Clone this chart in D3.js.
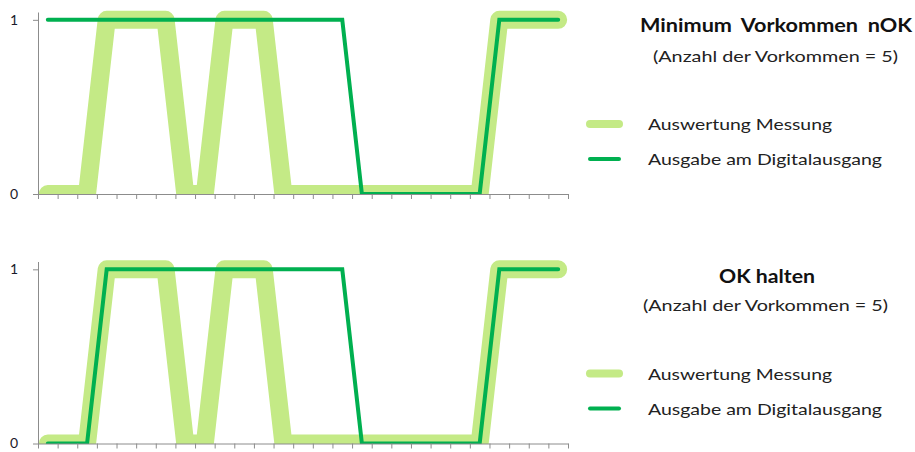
<!DOCTYPE html>
<html>
 <head>
  <title>Vorkommen Diagramm</title>
  <style>
  body {
   margin: 0;
   background-color: white;
  }
  text {
   font-family: Lato, "Open Sans", sans-serif;
  }
  </style>
  <script src="https://cdnjs.cloudflare.com/ajax/libs/d3/7.8.3/d3.min.js"></script>
 </head>

 <body>
  <script>
   // Werte
   const categories = d3.range(1, 28);
   const messung = [0,0,0,1,1,1,1,0,0,1,1,1,0,0,0,0,0,0,0,0,0,0,0,1,1,1,1];
   const ausgabeNOK = [1,1,1,1,1,1,1,1,1,1,1,1,1,1,1,1,0,0,0,0,0,0,0,1,1,1,1];
   const ausgabeOKHalten = [0,0,0,1,1,1,1,1,1,1,1,1,1,1,1,1,0,0,0,0,0,0,0,1,1,1,1];
   const yTicks = [0, 1];
   const legendLabels = ["Auswertung Messung", "Ausgabe am Digitalausgang"];

   const panels = [
    {title: "Minimum Vorkommen nOK", sub: "(Anzahl der Vorkommen = 5)", ausgabe: ausgabeNOK,
     top: 0, tx: 640, tw: 272, ty: 32, sx: 653, spacing: "0.2em"},
    {title: "OK halten", sub: "(Anzahl der Vorkommen = 5)", ausgabe: ausgabeOKHalten,
     top: 249.5, tx: 719, tw: 96, ty: 33.8, sx: 643, spacing: "0em"}
   ];

   const w = 915;
   const h = 452;
   const light = "#c4ea86";
   const dark = "#00b050";
   const axisColor = "#8c8c8c";

   const svg = d3.select("body")
                 .append("svg")
                 .attr("width", w)
                 .attr("height", h);

   const xScale = d3.scalePoint()
                    .domain(categories)
                    .range([38, 568])
                    .padding(0.5);
   const xEdges = d3.scaleLinear()
                    .domain([0, categories.length])
                    .range([38, 568]);
   const yScale = d3.scaleLinear()
                    .domain([0, 1.045])
                    .range([194, 12]);

   const line = d3.line()
                  .x((d, i) => xScale(categories[i]))
                  .y(d => yScale(d));

   panels.forEach((p, k) => {
    const g = svg.append("g")
                 .attr("transform", "translate(0," + p.top + ")");

    g.append("clipPath")
     .attr("id", "clip" + k)
     .append("rect")
     .attr("x", 0)
     .attr("y", 0)
     .attr("width", 600)
     .attr("height", 194.5);

    const plot = g.append("g")
                  .attr("clip-path", "url(#clip" + k + ")");
    plot.append("path")
        .datum(messung)
        .attr("d", line)
        .attr("fill", "none")
        .attr("stroke", light)
        .attr("stroke-width", 18)
        .attr("stroke-linejoin", "round")
        .attr("stroke-linecap", "round");
    plot.append("path")
        .datum(p.ausgabe)
        .attr("d", line)
        .attr("fill", "none")
        .attr("stroke", dark)
        .attr("stroke-width", 4)
        .attr("stroke-linecap", "round");

    const xAxis = d3.axisBottom(xEdges)
                    .tickValues(d3.range(categories.length + 1))
                    .tickFormat("")
                    .tickSize(5)
                    .tickSizeOuter(0);
    const gx = g.append("g")
                .attr("transform", "translate(0,194)")
                .call(xAxis);
    gx.selectAll("path, line").attr("stroke", axisColor);

    const yAxis = d3.axisLeft(yScale)
                    .tickValues(yTicks)
                    .tickFormat(d3.format("d"))
                    .tickSize(5)
                    .tickSizeOuter(0)
                    .tickPadding(15);
    const gy = g.append("g")
                .attr("transform", "translate(38,0)")
                .call(yAxis);
    gy.selectAll("path, line").attr("stroke", axisColor);
    gy.selectAll("text")
      .attr("fill", "#1a1a2a")
      .style("font-size", "14px")
      .style("font-family", "Lato, sans-serif");

    // Titel und Legende
    g.append("text")
     .attr("x", p.tx)
     .attr("y", p.ty)
     .attr("textLength", p.tw)
     .attr("lengthAdjust", "spacingAndGlyphs")
     .style("font-size", "19px")
     .style("font-weight", "bold")
     .style("word-spacing", p.spacing)
     .attr("fill", "#111")
     .text(p.title);
    g.append("text")
     .attr("x", p.sx)
     .attr("y", 61.5)
     .attr("textLength", 245)
     .attr("lengthAdjust", "spacingAndGlyphs")
     .style("font-size", "16px")
     .attr("fill", "#222")
     .text(p.sub);

    const leg = [[legendLabels[0], light, 8, 124, 184], [legendLabels[1], dark, 4, 159, 234]];
    const legend = g.append("g");
    legend.selectAll("line")
          .data(leg)
          .enter()
          .append("line")
          .attr("x1", 590)
          .attr("x2", 619)
          .attr("y1", d => d[3])
          .attr("y2", d => d[3])
          .attr("stroke", d => d[1])
          .attr("stroke-width", d => d[2])
          .attr("stroke-linecap", "round");
    legend.selectAll("text")
          .data(leg)
          .enter()
          .append("text")
          .attr("x", 648)
          .attr("y", d => d[3] + 6)
          .attr("textLength", d => d[4])
          .attr("lengthAdjust", "spacingAndGlyphs")
          .style("font-size", "15px")
          .attr("fill", "#222")
          .text(d => d[0]);
   });
  </script>
 </body>
</html>
